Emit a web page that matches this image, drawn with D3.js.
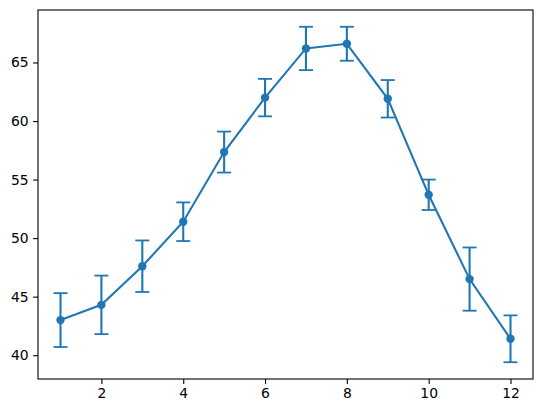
<!DOCTYPE html>
<html>
<head>
<meta charset="utf-8">
<script src="https://cdn.jsdelivr.net/npm/d3@7"></script>
<style>
  body { margin: 0; background: #fff; }
  text { font-family: "DejaVu Sans", sans-serif; font-size: 13.9px; fill: #000; }
</style>
</head>
<body>
<svg id="chart" width="543" height="413"></svg>
<script>
// data
var months = [1, 2, 3, 4, 5, 6, 7, 8, 9, 10, 11, 12],
    means = [43.0, 44.3, 47.6, 51.4, 57.35, 62.0, 66.2, 66.6, 61.9, 53.7, 46.5, 41.4],
    errors = [2.3, 2.5, 2.2, 1.65, 1.75, 1.6, 1.85, 1.45, 1.6, 1.3, 2.7, 2.0],
    xTicks = [2, 4, 6, 8, 10, 12],
    yTicks = [40, 45, 50, 55, 60, 65];

var color = '#1f77b4';

// plot area (note: "top" clashes with window.top)
var svg = d3.select('#chart'),
    plotLeft = 38, plotRight = 533, plotTop = 10, plotBottom = 379;

// matplotlib style 5% margins
var xMin = d3.min(months), xMax = d3.max(months),
    xPad = (xMax - xMin) * 0.05,
    yLo = d3.min(means.map(function(d, i) { return d - errors[i]; })),
    yHi = d3.max(means.map(function(d, i) { return d + errors[i]; })),
    yPad = (yHi - yLo) * 0.05;

var x = d3.scaleLinear()
    .domain([xMin - xPad, xMax + xPad])
    .range([plotLeft, plotRight]);
var y = d3.scaleLinear()
    .domain([yLo - yPad, yHi + yPad])
    .range([plotBottom, plotTop]);

var data = months.map(function(m, i) { return {x: m, y: means[i], e: errors[i]}; });

// axes
var xAxis = d3.axisBottom(x).tickValues(xTicks).tickSize(4.9).tickPadding(4.5).tickFormat(d3.format('d'));
var yAxis = d3.axisLeft(y).tickValues(yTicks).tickSize(4.9).tickPadding(4.5).tickFormat(d3.format('d'));

svg.append('g')
    .attr('transform', 'translate(0,' + plotBottom + ')')
    .call(xAxis)
    .call(function(g) { g.select('.domain').remove(); });
svg.append('g')
    .attr('transform', 'translate(' + plotLeft + ',0)')
    .call(yAxis)
    .call(function(g) { g.select('.domain').remove(); });

svg.selectAll('.tick line').attr('stroke', '#000').attr('stroke-width', 1.1);
svg.selectAll('.tick text').style('font-family', '"DejaVu Sans", sans-serif').style('font-size', '13.9px').attr('fill', '#000');

// frame
svg.append('rect')
    .attr('x', plotLeft)
    .attr('y', plotTop)
    .attr('width', plotRight - plotLeft)
    .attr('height', plotBottom - plotTop)
    .attr('fill', 'none')
    .attr('stroke', '#000')
    .attr('stroke-width', 1.1);

// error bars
var bars = svg.append('g').selectAll('g').data(data).enter().append('g');
bars.append('line')
    .attr('x1', function(d) { return x(d.x); })
    .attr('x2', function(d) { return x(d.x); })
    .attr('y1', function(d) { return y(d.y - d.e); })
    .attr('y2', function(d) { return y(d.y + d.e); })
    .attr('stroke', color)
    .attr('stroke-width', 2.1);
[-1, 1].forEach(function(s) {
    bars.append('line')
        .attr('x1', function(d) { return x(d.x) - 7; })
        .attr('x2', function(d) { return x(d.x) + 7; })
        .attr('y1', function(d) { return y(d.y + s * d.e); })
        .attr('y2', function(d) { return y(d.y + s * d.e); })
        .attr('stroke', color)
        .attr('stroke-width', 1.8);
});

// line
svg.append('path')
    .datum(data)
    .attr('fill', 'none')
    .attr('stroke', color)
    .attr('stroke-width', 2.1)
    .attr('d', d3.line()
        .x(function(d) { return x(d.x); })
        .y(function(d) { return y(d.y); }));

// markers
svg.append('g').selectAll('circle').data(data).enter()
  .append('circle')
    .attr('cx', function(d) { return x(d.x); })
    .attr('cy', function(d) { return y(d.y); })
    .attr('r', 4.2)
    .attr('fill', color);
</script>
</body>
</html>
